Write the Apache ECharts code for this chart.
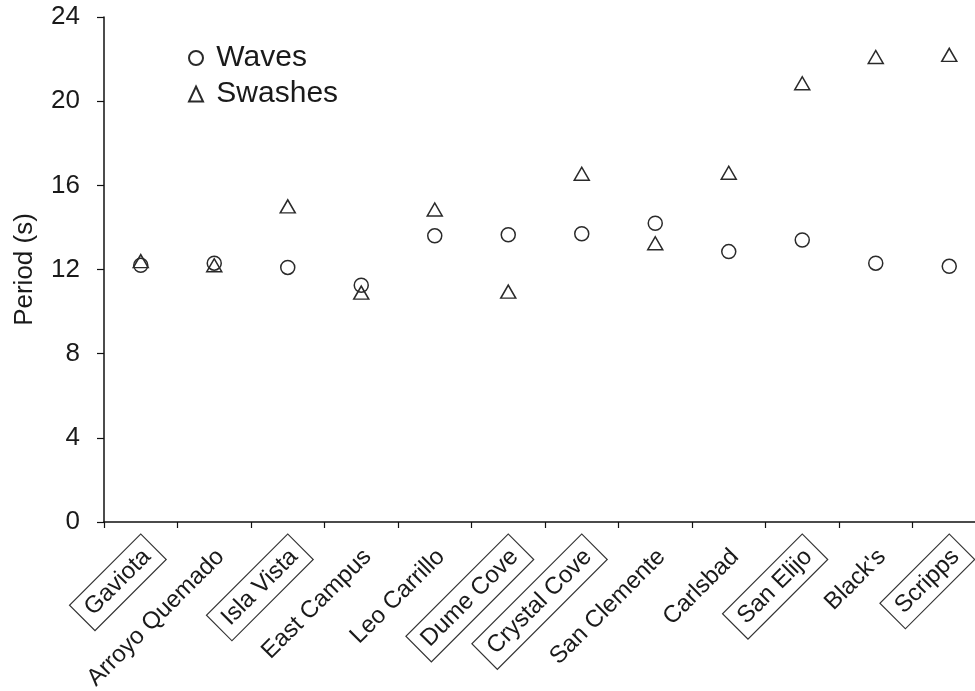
<!DOCTYPE html>
<html>
<head>
<meta charset="utf-8">
<script src="https://cdn.jsdelivr.net/npm/echarts@6/dist/echarts.min.js"></script>
<style>
html,body{margin:0;padding:0;background:#fff;}
#chart{width:975px;height:691px;}
</style>
</head>
<body>
<div id="chart"></div>
<script>
var categories = ["Gaviota","Arroyo Quemado","Isla Vista","East Campus","Leo Carrillo","Dume Cove","Crystal Cove","San Clemente","Carlsbad","San Elijo","Black's","Scripps"];
var boxedSites = ["Gaviota","Isla Vista","Dume Cove","Crystal Cove","San Elijo","Scripps"];
var waves   = [12.2, 12.3, 12.1, 11.25, 13.6, 13.65, 13.7, 14.2, 12.85, 13.4, 12.3, 12.15];
var swashes = [12.4, 12.2, 15.0, 10.9, 14.85, 10.95, 16.55, 13.25, 16.6, 20.85, 22.1, 22.2];
var yTicks = [0, 4, 8, 12, 16, 20, 24];

var ink = '#2a2a2a';
var font = 'Liberation Sans, Arial, sans-serif';
var chart = echarts.init(document.getElementById('chart'));
chart.setOption({
  animation: false,
  backgroundColor: '#fff',
  textStyle: { fontFamily: font },
  grid: { left: 104, top: 17, right: -11, bottom: 169, containLabel: false, outerBoundsMode: 'none' },
  legend: {
    orient: 'vertical', left: 188, top: 43, padding: 0,
    itemWidth: 14, itemHeight: 15, itemGap: 6,
    textStyle: { fontSize: 30, color: '#1a1a1a', fontFamily: font },
    formatter: function (n) { return ' ' + n; },
    data: ['Waves', 'Swashes']
  },
  xAxis: {
    type: 'category', data: categories, boundaryGap: true,
    axisLine: { lineStyle: { color: '#111', width: 1.5 } },
    axisTick: { show: true, interval: 0, length: 6, lineStyle: { color: '#111', width: 1.2 } },
    axisLabel: {
      interval: 0, rotate: 45, margin: 12,
      align: 'right', verticalAlign: 'top',
      fontSize: 24, color: '#1a1a1a', fontFamily: font,
      formatter: function (v) {
        return (boxedSites.indexOf(v) >= 0 ? '{box|' : '{plain|') + v + '}';
      },
      rich: {
        box: { borderColor: '#333', borderWidth: 1.2, padding: [6, 9, 6, 9], fontSize: 24, color: '#1a1a1a', fontFamily: font },
        plain: { borderColor: 'rgba(0,0,0,0)', borderWidth: 1.2, padding: [6, 9, 6, 9], fontSize: 24, color: '#1a1a1a', fontFamily: font }
      }
    },
    splitLine: { show: false }
  },
  yAxis: {
    type: 'value', min: yTicks[0], max: yTicks[yTicks.length - 1], interval: 4,
    name: 'Period (s)', nameLocation: 'middle', nameGap: 66, nameRotate: 90,
    nameTextStyle: { fontSize: 26, color: '#1a1a1a', fontFamily: font },
    axisLine: { show: true, lineStyle: { color: '#111', width: 1.5 } },
    axisTick: { show: true, length: 7, lineStyle: { color: '#111', width: 1.2 } },
    axisLabel: { fontSize: 26, color: '#1a1a1a', margin: 24, fontFamily: font },
    splitLine: { show: false }
  },
  series: [
    {
      name: 'Waves', type: 'scatter', data: waves,
      symbol: 'circle', symbolSize: 14,
      itemStyle: { color: '#fff', borderColor: ink, borderWidth: 1.5, opacity: 1 }
    },
    {
      name: 'Swashes', type: 'scatter', data: swashes,
      symbol: 'triangle', symbolSize: [15, 13],
      itemStyle: { color: 'rgba(255,255,255,0)', borderColor: ink, borderWidth: 1.5, opacity: 1 }
    }
  ]
});
</script>
</body>
</html>
